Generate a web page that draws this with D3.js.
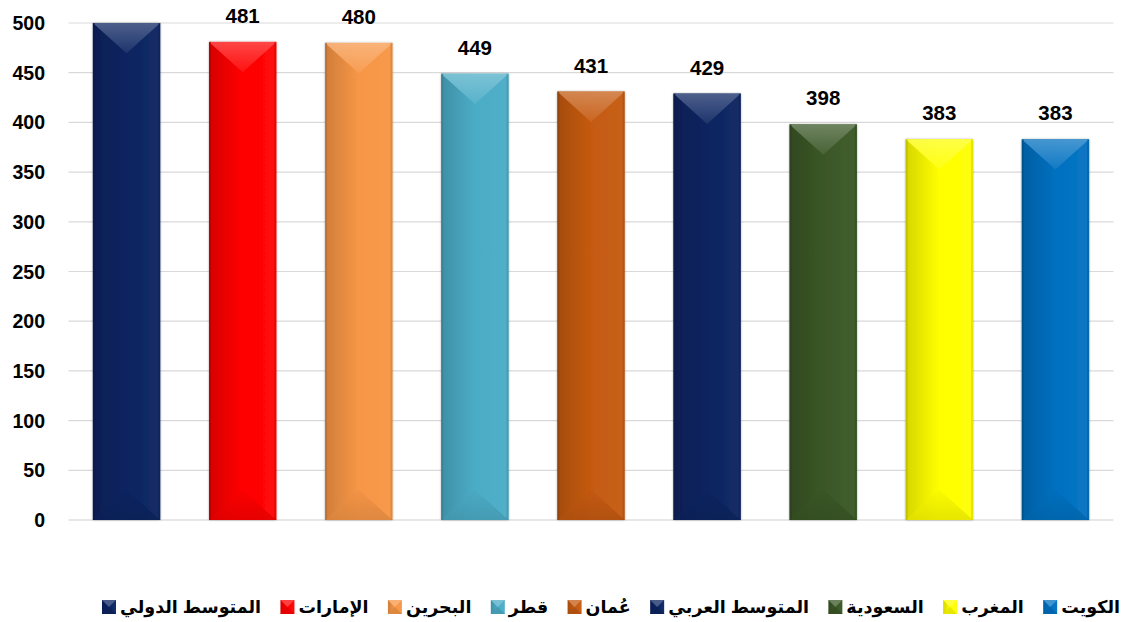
<!DOCTYPE html>
<html>
<head>
<meta charset="utf-8">
<script src="https://cdn.jsdelivr.net/npm/d3@7/dist/d3.min.js"></script>
<style>
  html, body { margin: 0; padding: 0; background: #ffffff; }
  svg { display: block; }
</style>
</head>
<body>
<svg id="chart" width="1133" height="622"></svg>
<script>
// ---- data ----
const categories = ["المتوسط الدولي", "الإمارات", "البحرين", "قطر", "عُمان", "المتوسط العربي", "السعودية", "المغرب", "الكويت"];
const values = [500, 481, 480, 449, 431, 429, 398, 383, 383];
const labels = ["", "481", "480", "449", "431", "429", "398", "383", "383"];
const colors = ["#0b2461", "#ff0000", "#f79646", "#4bacc6", "#c55a11", "#0b2461", "#3a5726", "#ffff00", "#0070c0"];
const yTicks = [0, 50, 100, 150, 200, 250, 300, 350, 400, 450, 500];

// ---- layout ----
const svg = d3.select("#chart");
const plot = { left: 68.5, right: 1113.5, top: 23, bottom: 520 };

const x = d3.scaleBand().domain(categories).range([plot.left, plot.right]).paddingInner(0.42).paddingOuter(0.21);
const y = d3.scaleLinear().domain([0, 500]).range([plot.bottom, plot.top]);

const defs = svg.append("defs");
const shadow = defs.append("filter").attr("id", "shadow").attr("x", "-20%").attr("y", "-10%").attr("width", "140%").attr("height", "120%");
shadow.append("feDropShadow").attr("dx", 0).attr("dy", 0).attr("stdDeviation", 1.2).attr("flood-color", "#000").attr("flood-opacity", 0.35);

function shade(c, k) {
  if (k < 0) return d3.interpolateRgb(c, "#000")(-k);
  return d3.interpolateRgb(c, "#fff")(k);
}

categories.forEach((c, i) => {
  const g = defs.append("linearGradient").attr("id", "hg" + i).attr("x1", 0).attr("x2", 1).attr("y1", 0).attr("y2", 0);
  g.append("stop").attr("offset", 0).attr("stop-color", shade(colors[i], -0.16));
  g.append("stop").attr("offset", 0.5).attr("stop-color", shade(colors[i], 0.0));
  g.append("stop").attr("offset", 1).attr("stop-color", shade(colors[i], 0.04));
  const t = defs.append("linearGradient").attr("id", "tg" + i).attr("x1", 0).attr("x2", 0).attr("y1", 0).attr("y2", 1);
  t.append("stop").attr("offset", 0).attr("stop-color", shade(colors[i], 0.3));
  t.append("stop").attr("offset", 1).attr("stop-color", shade(colors[i], 0.08));
  const b = defs.append("linearGradient").attr("id", "bg" + i).attr("x1", 0).attr("x2", 0).attr("y1", 0).attr("y2", 1);
  b.append("stop").attr("offset", 0).attr("stop-color", shade(colors[i], -0.02));
  b.append("stop").attr("offset", 1).attr("stop-color", shade(colors[i], -0.12));
});

// ---- grid ----
svg.append("g").selectAll("line").data(yTicks).join("line")
  .attr("x1", plot.left).attr("x2", plot.right)
  .attr("y1", d => y(d)).attr("y2", d => y(d))
  .attr("stroke", d => d === 0 ? "#d0d0d0" : "#d9d9d9").attr("stroke-width", 1.2);

// ---- y axis labels ----
svg.append("g").selectAll("text").data(yTicks).join("text")
  .attr("x", 45).attr("y", d => y(d)).attr("dy", "0.36em")
  .attr("text-anchor", "end")
  .attr("font-family", "Arial, 'Liberation Sans', sans-serif").attr("font-weight", "bold")
  .attr("font-size", 19.5).attr("fill", "#000")
  .text(d => d);

// ---- bars ----
const bars = svg.append("g").selectAll("g").data(categories).join("g");
bars.each(function(c, i) {
  const g = d3.select(this);
  const x0 = x(c), bw = x.bandwidth(), x1 = x0 + bw, xm = x0 + bw / 2;
  const yt = y(values[i]), yb = y(0);
  const d = bw / 2 * 0.9;
  g.append("rect").attr("x", x0).attr("y", yt).attr("width", bw).attr("height", yb - yt)
    .attr("fill", "url(#hg" + i + ")").attr("filter", "url(#shadow)");
  g.append("polygon").attr("points", [[x0, yt], [x1, yt], [xm, yt + d]].map(p => p.join(",")).join(" "))
    .attr("fill", "url(#tg" + i + ")").attr("opacity", 0.9);
  g.append("polygon").attr("points", [[x0, yb], [x1, yb], [xm, yb - d]].map(p => p.join(",")).join(" "))
    .attr("fill", "url(#bg" + i + ")").attr("opacity", 0.8);
  g.append("rect").attr("x", x0).attr("y", yt).attr("width", 2).attr("height", yb - yt)
    .attr("fill", shade(colors[i], -0.3)).attr("opacity", 0.6);
  g.append("rect").attr("x", x1 - 2).attr("y", yt).attr("width", 2).attr("height", yb - yt)
    .attr("fill", shade(colors[i], -0.2)).attr("opacity", 0.5);
});

// ---- value labels ----
svg.append("g").selectAll("text").data(categories).join("text")
  .attr("x", c => x(c) + x.bandwidth() / 2)
  .attr("y", (c, i) => y(values[i]) - 19)
  .attr("text-anchor", "middle")
  .attr("font-family", "Arial, 'Liberation Sans', sans-serif").attr("font-weight", "bold")
  .attr("font-size", 20.5).attr("fill", "#000")
  .text((c, i) => labels[i]);

// ---- legend ----
const legend = svg.append("g");
const legY = 607, mk = 14, gapMT = 4, legStart = 102, legEnd = 1120;
const items = legend.selectAll("g").data(categories).join("g");
items.append("text")
  .attr("font-family", "Arial, 'DejaVu Sans', sans-serif").attr("font-weight", "bold")
  .attr("font-size", 17.5).attr("fill", "#000")
  .attr("dy", "0.35em")
  .text(d => d);
const widths = [];
items.select("text").each(function() { widths.push(this.getComputedTextLength()); });
const total = d3.sum(widths) + categories.length * (mk + gapMT);
const gap = (legEnd - legStart - total) / (categories.length - 1);
let cx = legStart;
items.each(function(c, i) {
  const g = d3.select(this);
  const mx = cx, my = legY - mk / 2;
  g.append("rect").attr("x", mx).attr("y", my).attr("width", mk).attr("height", mk).attr("fill", "url(#hg" + i + ")");
  g.append("polygon").attr("points", [[mx, my], [mx + mk, my], [mx + mk / 2, my + mk / 2]].map(p => p.join(",")).join(" "))
    .attr("fill", shade(colors[i], 0.25));
  g.append("polygon").attr("points", [[mx, my + mk], [mx + mk, my + mk], [mx + mk / 2, my + mk / 2]].map(p => p.join(",")).join(" "))
    .attr("fill", shade(colors[i], -0.1));
  g.select("text").attr("x", mx + mk + gapMT).attr("y", legY).attr("text-anchor", "start");
  cx = mx + mk + gapMT + widths[i] + gap;
});
</script>
</body>
</html>
